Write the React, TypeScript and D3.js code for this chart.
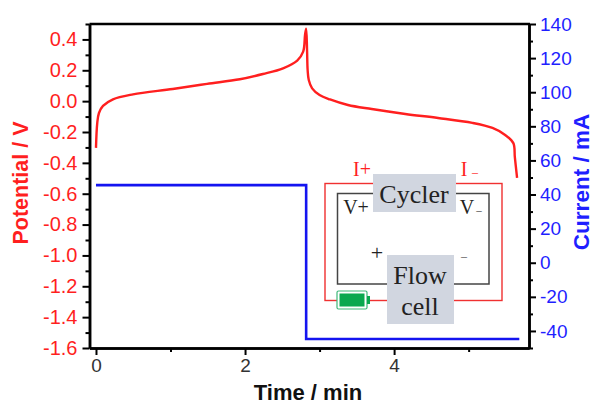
import React, { useEffect, useRef } from 'react';
import { select, scaleLinear, axisLeft, axisRight, axisBottom, line, curveCatmullRom, format } from 'd3';

// red potential trace
const potentialTime = [0, 0.017, 0.04, 0.094, 0.228, 0.497, 1.03, 1.49, 1.93, 2.24, 2.51, 2.7, 2.78, 2.805, 2.82, 2.832, 2.84, 2.855, 2.9, 3.0, 3.14, 3.38, 3.7, 4.15, 4.59, 5.05, 5.32, 5.49, 5.6, 5.62, 5.65];
const potentialValues = [-0.303, -0.142, -0.077, -0.031, 0.012, 0.044, 0.079, 0.112, 0.142, 0.176, 0.213, 0.263, 0.321, 0.43, 0.47, 0.33, 0.2, 0.137, 0.083, 0.04, 0.011, -0.025, -0.051, -0.083, -0.109, -0.141, -0.174, -0.219, -0.272, -0.363, -0.498];

// blue current trace
const currentTime = [0, 2.82, 2.82, 5.68];
const currentValues = [45.5, 45.5, -44.7, -44.7];

const potentialTicks = [0.4, 0.2, 0, -0.2, -0.4, -0.6, -0.8, -1.0, -1.2, -1.4, -1.6];
const potentialMinor = [0.5, 0.3, 0.1, -0.1, -0.3, -0.5, -0.7, -0.9, -1.1, -1.3, -1.5];
const currentTicks = [140, 120, 100, 80, 60, 40, 20, 0, -20, -40];
const currentMinor = [130, 110, 90, 70, 50, 30, 10, -10, -30, -50];
const timeTicks = [0, 2, 4];
const timeMinor = [1, 3, 5];

const RED = '#ff1f1f';
const BLUE = '#1f1fff';
const DARK = '#333';

const left = 89.5, right = 529, top = 24, bottom = 348;

const hyphen = (f: (n: number) => string) => (n: any) => f(n).replace('\u2212', '-');

export default function App() {
  const ref = useRef<SVGSVGElement>(null);

  useEffect(() => {
    const svg = select(ref.current);
    svg.selectAll('*').remove();

    const x = scaleLinear().domain([-0.087, 5.81]).range([left, right]);
    const yP = scaleLinear().domain([-1.6, 0.5]).range([bottom, top]);
    const yC = scaleLinear().domain([-50, 140]).range([bottom, top]);

    // frame top line
    svg.append('line').attr('x1', left).attr('x2', right + 1).attr('y1', top).attr('y2', top)
      .attr('stroke', '#000').attr('stroke-width', 2.5);

    const styleAxis = (g: any, color: string, size = 19) => {
      g.selectAll('.domain').attr('stroke', '#000').attr('stroke-width', 2.5);
      g.selectAll('.tick line').attr('stroke', '#000').attr('stroke-width', 2);
      g.selectAll('text').attr('fill', color).attr('font-family', 'Liberation Sans').attr('font-size', size);
    };

    // left axis
    const gl = svg.append('g').attr('transform', `translate(${left},0)`);
    gl.call(axisLeft(yP).tickValues(potentialMinor).tickSize(4).tickSizeOuter(0).tickFormat(() => ''));
    gl.call(g => styleAxis(g, RED));
    const glMajor = svg.append('g').attr('transform', `translate(${left},0)`);
    glMajor.call(axisLeft(yP).tickValues(potentialTicks).tickSize(7).tickSizeOuter(0).tickPadding(5).tickFormat(hyphen(format('.1f'))));
    glMajor.call(g => styleAxis(g, RED, 20));

    // right axis
    const gr = svg.append('g').attr('transform', `translate(${right},0)`);
    gr.call(axisRight(yC).tickValues(currentMinor).tickSize(4).tickSizeOuter(0).tickFormat(() => ''));
    gr.call(g => styleAxis(g, BLUE));
    const grMajor = svg.append('g').attr('transform', `translate(${right},0)`);
    grMajor.call(axisRight(yC).tickValues(currentTicks).tickSize(7).tickSizeOuter(0).tickPadding(4).tickFormat(hyphen(format('d'))));
    grMajor.call(g => styleAxis(g, BLUE));

    // bottom axis
    const gb = svg.append('g').attr('transform', `translate(0,${bottom})`);
    gb.call(axisBottom(x).tickValues(timeMinor).tickSize(4).tickSizeOuter(0).tickFormat(() => ''));
    gb.call(g => styleAxis(g, DARK));
    const gbMajor = svg.append('g').attr('transform', `translate(0,${bottom})`);
    gbMajor.call(axisBottom(x).tickValues(timeTicks).tickSize(7).tickSizeOuter(0).tickPadding(4).tickFormat(format('d')));
    gbMajor.call(g => styleAxis(g, DARK));

    // axis titles
    svg.append('text').text('Potential / V')
      .attr('transform', `translate(28,183) rotate(-90)`)
      .attr('text-anchor', 'middle').attr('fill', RED)
      .attr('font-family', 'Liberation Sans').attr('font-weight', 'bold').attr('font-size', 21.5);
    svg.append('text').text('Current / mA')
      .attr('transform', `translate(589,182) rotate(-90)`)
      .attr('text-anchor', 'middle').attr('fill', BLUE)
      .attr('font-family', 'Liberation Sans').attr('font-weight', 'bold').attr('font-size', 22.5);
    svg.append('text').text('Time / min')
      .attr('x', 308).attr('y', 400).attr('text-anchor', 'middle').attr('fill', '#111')
      .attr('font-family', 'Liberation Sans').attr('font-weight', 'bold').attr('font-size', 22);

    // traces
    const redLine = line<number>().x((d, i) => x(potentialTime[i])).y(d => yP(d)).curve(curveCatmullRom.alpha(0.5));
    svg.append('path').attr('d', redLine(potentialValues))
      .attr('fill', 'none').attr('stroke', RED).attr('stroke-width', 2.4);
    const blueLine = line<number>().x((d, i) => x(currentTime[i])).y(d => yC(d));
    svg.append('path').attr('d', blueLine(currentValues))
      .attr('fill', 'none').attr('stroke', '#1414f0').attr('stroke-width', 2.6);

    // cycler / flow cell schematic
    const inset = svg.append('g');
    inset.append('rect').attr('x', 325).attr('y', 183.5).attr('width', 177).attr('height', 117)
      .attr('fill', 'none').attr('stroke', '#f03030').attr('stroke-width', 1.4);
    inset.append('rect').attr('x', 337.5).attr('y', 193.5).attr('width', 151.5).attr('height', 90.5)
      .attr('fill', 'none').attr('stroke', '#444').attr('stroke-width', 1.5);
    inset.append('rect').attr('x', 373).attr('y', 174).attr('width', 83).attr('height', 38).attr('fill', '#d1d6e0');
    inset.append('rect').attr('x', 387).attr('y', 255).attr('width', 67).attr('height', 69).attr('fill', '#d1d6e0');
    // battery
    inset.append('rect').attr('x', 337).attr('y', 291).attr('width', 30).attr('height', 18).attr('rx', 1.5)
      .attr('fill', '#fff').attr('stroke', '#3cb878').attr('stroke-width', 1.2);
    inset.append('rect').attr('x', 339.5).attr('y', 293.5).attr('width', 25).attr('height', 13).attr('fill', '#0aa84f');
    inset.append('rect').attr('x', 367).attr('y', 296).attr('width', 3).attr('height', 8).attr('fill', '#0aa84f');

    const label = (t: string, lx: number, ly: number, size: number, color: string) =>
      inset.append('text').text(t).attr('x', lx).attr('y', ly).attr('text-anchor', 'middle')
        .attr('font-family', 'Liberation Serif').attr('font-size', size).attr('fill', color);
    label('I+', 362, 176, 20, RED);
    label('I', 464, 176, 20, RED);
    label('–', 475, 176, 12, RED);
    label('Cycler', 414, 203, 26, '#222');
    label('V+', 356, 214, 20, '#222');
    label('V', 467, 214, 20, '#222');
    label('–', 479, 214, 11, '#222');
    label('+', 377, 260, 22, '#222');
    label('–', 464, 260, 12, '#555');
    label('Flow', 420, 284, 26, '#222');
    label('cell', 420, 315, 26, '#222');
  }, []);

  return (
    <svg ref={ref} width={594} height={405} style={{ position: 'absolute', left: 0, top: 0 }} />
  );
}
